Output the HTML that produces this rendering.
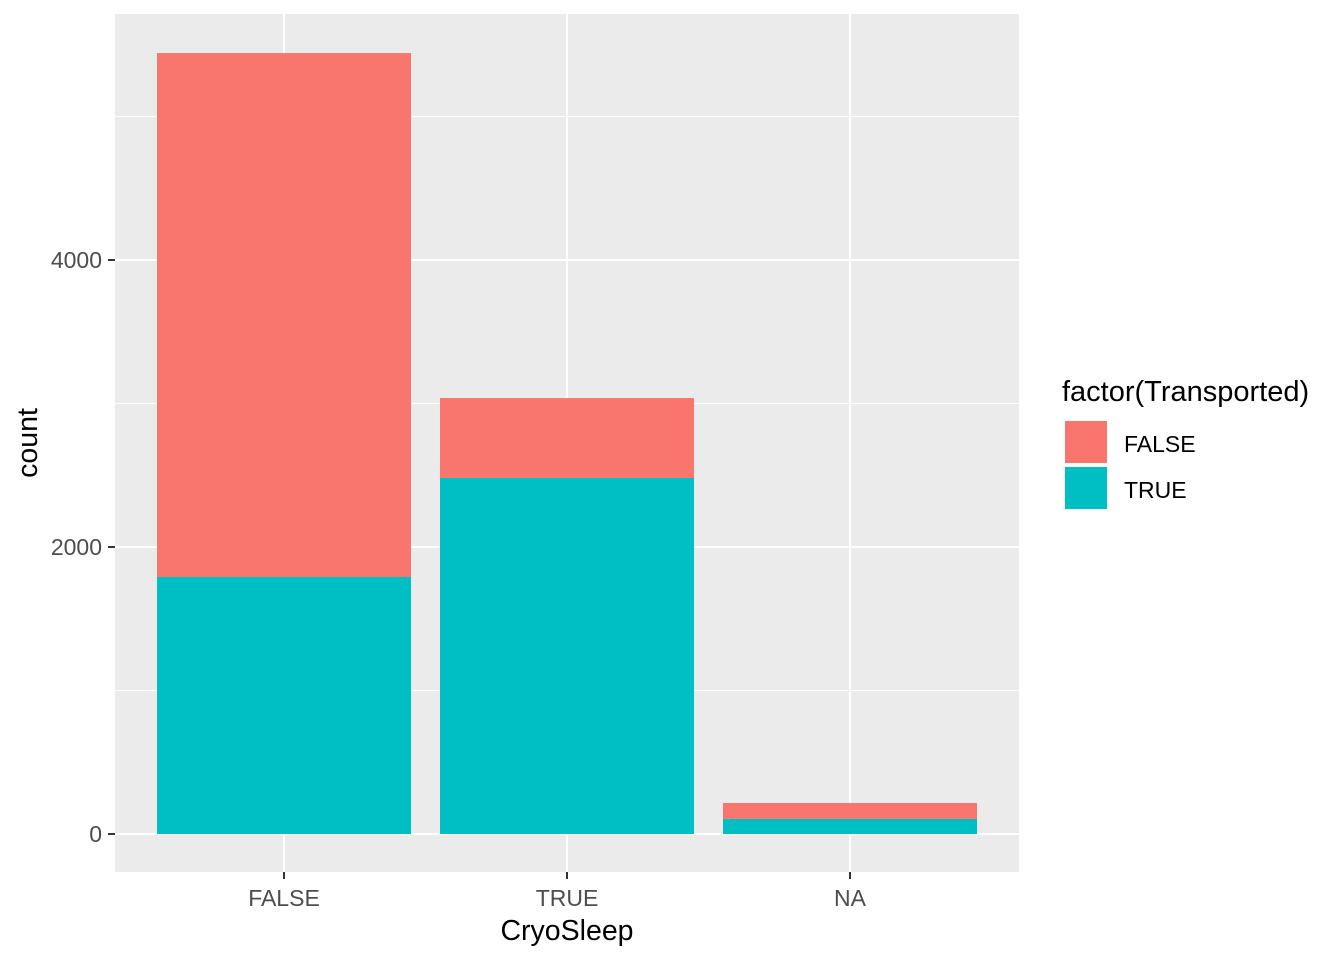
<!DOCTYPE html>
<html><head><meta charset="utf-8"><style>
body{margin:0;background:#fff;font-family:"Liberation Sans",Arial,sans-serif}
</style></head><body>
<svg id="c" width="1344" height="960" xmlns="http://www.w3.org/2000/svg">
<rect x="115" y="14" width="904" height="858" fill="#EBEBEB"/>
<g id="grid"></g><g id="bars"></g><g id="axes"></g>
<text x="567" y="940" font-size="28.5" text-anchor="middle" fill="#000">CryoSleep</text>
<text transform="translate(37,443) rotate(-90)" font-size="28.5" text-anchor="middle" fill="#000">count</text>
<g>
<text x="1062" y="401" font-size="29" fill="#000">factor(Transported)</text>
<rect x="1065" y="421" width="42" height="42" fill="#F8766D"/>
<text x="1124" y="452" font-size="23" fill="#000">FALSE</text>
<rect x="1065" y="467" width="42" height="42" fill="#00BFC4"/>
<text x="1124" y="498" font-size="23" fill="#000">TRUE</text>
</g>
</svg>
<script>
const categories=["FALSE","TRUE","NA"];
const transportedTrue=[1791,2481,105];
const transportedFalse=[3651,557,111];
const yTicks=[0,2000,4000];
const yMinor=[1000,3000,5000];
const NS="http://www.w3.org/2000/svg";
const y=v=>834-v*0.1435;
const x=i=>284+i*283;
const bw=254;
function mk(tag,attrs,parent){const e=document.createElementNS(NS,tag);for(const k in attrs)e.setAttribute(k,attrs[k]);document.getElementById(parent).appendChild(e);return e;}
yMinor.forEach(v=>{const l=mk('line',{x1:115,x2:1019,y1:y(v),y2:y(v),stroke:'#fff','stroke-width':1},'grid');

});
yTicks.forEach(v=>{const l=mk('line',{x1:115,x2:1019,y1:y(v),y2:y(v),stroke:'#fff','stroke-width':2},'grid');


const t=mk('line',{x1:108,x2:115,y1:y(v),y2:y(v),stroke:'#333','stroke-width':2},'axes');


const tx=mk('text',{x:102,y:y(v)+8,'font-size':23,'text-anchor':'end',fill:'#4D4D4D'},'axes');tx.textContent=v;

});
categories.forEach((c,i)=>{const l=mk('line',{x1:x(i),x2:x(i),y1:14,y2:872,stroke:'#fff','stroke-width':2},'grid');


const b1=mk('rect',{x:x(i)-bw/2,y:y(transportedTrue[i]),width:bw,height:y(0)-y(transportedTrue[i]),fill:'#00BFC4'},'bars');


const tot=transportedTrue[i]+transportedFalse[i];
const b2=mk('rect',{x:x(i)-bw/2,y:y(tot),width:bw,height:y(transportedTrue[i])-y(tot),fill:'#F8766D'},'bars');


const t=mk('line',{x1:x(i),x2:x(i),y1:872,y2:879,stroke:'#333','stroke-width':2},'axes');


const tx=mk('text',{x:x(i),y:906,'font-size':23,'text-anchor':'middle',fill:'#4D4D4D'},'axes');tx.textContent=c;

});
</script>
</body></html>
